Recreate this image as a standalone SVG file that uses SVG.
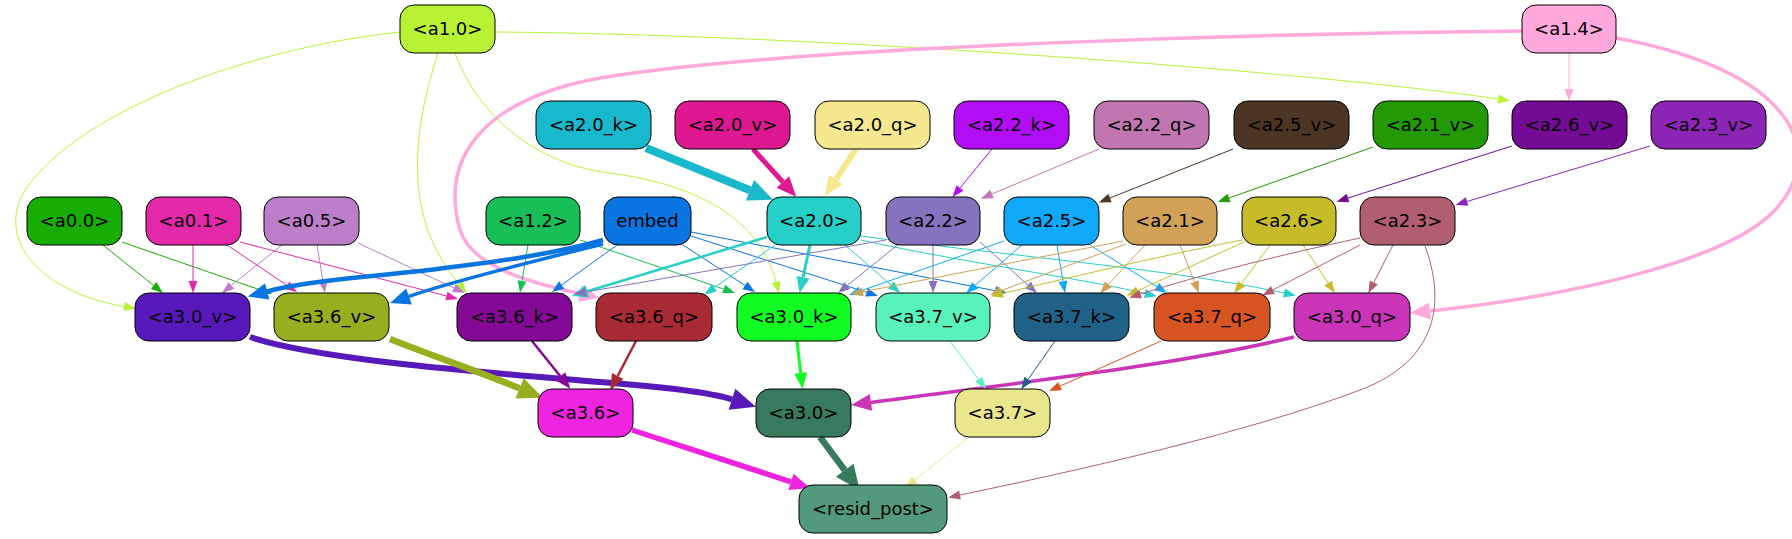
<svg xmlns="http://www.w3.org/2000/svg" width="1792" height="539" viewBox="0 0 1792 539">
<style>
.n rect{stroke:#000;stroke-width:1}
.n text{font-family:"DejaVu Sans","Liberation Sans",sans-serif;font-size:18px;text-anchor:middle;fill:#000}
.e path{fill:none}
marker{overflow:visible}
</style>
<defs>
<marker id="s-b10ef6" markerUnits="userSpaceOnUse" markerWidth="12" markerHeight="9" refX="0" refY="4.5" orient="auto"><path d="M0,0L12,4.5L0,9z" fill="#b10ef6"/></marker>
<marker id="s-c276b1" markerUnits="userSpaceOnUse" markerWidth="12" markerHeight="9" refX="0" refY="4.5" orient="auto"><path d="M0,0L12,4.5L0,9z" fill="#c276b1"/></marker>
<marker id="s-4b3523" markerUnits="userSpaceOnUse" markerWidth="12" markerHeight="9" refX="0" refY="4.5" orient="auto"><path d="M0,0L12,4.5L0,9z" fill="#4b3523"/></marker>
<marker id="s-239a05" markerUnits="userSpaceOnUse" markerWidth="12" markerHeight="9" refX="0" refY="4.5" orient="auto"><path d="M0,0L12,4.5L0,9z" fill="#239a05"/></marker>
<marker id="s-740b95" markerUnits="userSpaceOnUse" markerWidth="12" markerHeight="9" refX="0" refY="4.5" orient="auto"><path d="M0,0L12,4.5L0,9z" fill="#740b95"/></marker>
<marker id="s-8c24b5" markerUnits="userSpaceOnUse" markerWidth="12" markerHeight="9" refX="0" refY="4.5" orient="auto"><path d="M0,0L12,4.5L0,9z" fill="#8c24b5"/></marker>
<marker id="s-fea8db" markerUnits="userSpaceOnUse" markerWidth="12" markerHeight="9" refX="0" refY="4.5" orient="auto"><path d="M0,0L12,4.5L0,9z" fill="#fea8db"/></marker>
<marker id="s-b9f235" markerUnits="userSpaceOnUse" markerWidth="12" markerHeight="9" refX="0" refY="4.5" orient="auto"><path d="M0,0L12,4.5L0,9z" fill="#b9f235"/></marker>
<marker id="s-18ad05" markerUnits="userSpaceOnUse" markerWidth="12" markerHeight="9" refX="0" refY="4.5" orient="auto"><path d="M0,0L12,4.5L0,9z" fill="#18ad05"/></marker>
<marker id="s-e329a9" markerUnits="userSpaceOnUse" markerWidth="12" markerHeight="9" refX="0" refY="4.5" orient="auto"><path d="M0,0L12,4.5L0,9z" fill="#e329a9"/></marker>
<marker id="s-bc7ec9" markerUnits="userSpaceOnUse" markerWidth="12" markerHeight="9" refX="0" refY="4.5" orient="auto"><path d="M0,0L12,4.5L0,9z" fill="#bc7ec9"/></marker>
<marker id="s-18bf57" markerUnits="userSpaceOnUse" markerWidth="12" markerHeight="9" refX="0" refY="4.5" orient="auto"><path d="M0,0L12,4.5L0,9z" fill="#18bf57"/></marker>
<marker id="s-0875e1" markerUnits="userSpaceOnUse" markerWidth="12" markerHeight="9" refX="0" refY="4.5" orient="auto"><path d="M0,0L12,4.5L0,9z" fill="#0875e1"/></marker>
<marker id="s-26cfc7" markerUnits="userSpaceOnUse" markerWidth="12" markerHeight="9" refX="0" refY="4.5" orient="auto"><path d="M0,0L12,4.5L0,9z" fill="#26cfc7"/></marker>
<marker id="s-8574bd" markerUnits="userSpaceOnUse" markerWidth="12" markerHeight="9" refX="0" refY="4.5" orient="auto"><path d="M0,0L12,4.5L0,9z" fill="#8574bd"/></marker>
<marker id="s-10a8f8" markerUnits="userSpaceOnUse" markerWidth="12" markerHeight="9" refX="0" refY="4.5" orient="auto"><path d="M0,0L12,4.5L0,9z" fill="#10a8f8"/></marker>
<marker id="s-d1a156" markerUnits="userSpaceOnUse" markerWidth="12" markerHeight="9" refX="0" refY="4.5" orient="auto"><path d="M0,0L12,4.5L0,9z" fill="#d1a156"/></marker>
<marker id="s-c6bc29" markerUnits="userSpaceOnUse" markerWidth="12" markerHeight="9" refX="0" refY="4.5" orient="auto"><path d="M0,0L12,4.5L0,9z" fill="#c6bc29"/></marker>
<marker id="s-b15f70" markerUnits="userSpaceOnUse" markerWidth="12" markerHeight="9" refX="0" refY="4.5" orient="auto"><path d="M0,0L12,4.5L0,9z" fill="#b15f70"/></marker>
<marker id="s-58f3ba" markerUnits="userSpaceOnUse" markerWidth="12" markerHeight="9" refX="0" refY="4.5" orient="auto"><path d="M0,0L12,4.5L0,9z" fill="#58f3ba"/></marker>
<marker id="s-1f6187" markerUnits="userSpaceOnUse" markerWidth="12" markerHeight="9" refX="0" refY="4.5" orient="auto"><path d="M0,0L12,4.5L0,9z" fill="#1f6187"/></marker>
<marker id="s-d65523" markerUnits="userSpaceOnUse" markerWidth="12" markerHeight="9" refX="0" refY="4.5" orient="auto"><path d="M0,0L12,4.5L0,9z" fill="#d65523"/></marker>
<marker id="s-e9e68c" markerUnits="userSpaceOnUse" markerWidth="12" markerHeight="9" refX="0" refY="4.5" orient="auto"><path d="M0,0L12,4.5L0,9z" fill="#e9e68c"/></marker>
<marker id="m-26cfc7" markerUnits="userSpaceOnUse" markerWidth="16" markerHeight="13" refX="0" refY="6.5" orient="auto"><path d="M0,0L16,6.5L0,13z" fill="#26cfc7"/></marker>
<marker id="m-840996" markerUnits="userSpaceOnUse" markerWidth="16" markerHeight="13" refX="0" refY="6.5" orient="auto"><path d="M0,0L16,6.5L0,13z" fill="#840996"/></marker>
<marker id="m-a82a35" markerUnits="userSpaceOnUse" markerWidth="16" markerHeight="13" refX="0" refY="6.5" orient="auto"><path d="M0,0L16,6.5L0,13z" fill="#a82a35"/></marker>
<marker id="m-10fc22" markerUnits="userSpaceOnUse" markerWidth="16" markerHeight="13" refX="0" refY="6.5" orient="auto"><path d="M0,0L16,6.5L0,13z" fill="#10fc22"/></marker>
<marker id="l-dd1891" markerUnits="userSpaceOnUse" markerWidth="20" markerHeight="17" refX="0" refY="8.5" orient="auto"><path d="M0,0L20,8.5L0,17z" fill="#dd1891"/></marker>
<marker id="l-f6e88f" markerUnits="userSpaceOnUse" markerWidth="20" markerHeight="17" refX="0" refY="8.5" orient="auto"><path d="M0,0L20,8.5L0,17z" fill="#f6e88f"/></marker>
<marker id="l-fea8db" markerUnits="userSpaceOnUse" markerWidth="20" markerHeight="17" refX="0" refY="8.5" orient="auto"><path d="M0,0L20,8.5L0,17z" fill="#fea8db"/></marker>
<marker id="l-0875e1" markerUnits="userSpaceOnUse" markerWidth="20" markerHeight="17" refX="0" refY="8.5" orient="auto"><path d="M0,0L20,8.5L0,17z" fill="#0875e1"/></marker>
<marker id="l-ca34b9" markerUnits="userSpaceOnUse" markerWidth="20" markerHeight="17" refX="0" refY="8.5" orient="auto"><path d="M0,0L20,8.5L0,17z" fill="#ca34b9"/></marker>
<marker id="l-ef24e1" markerUnits="userSpaceOnUse" markerWidth="20" markerHeight="17" refX="0" refY="8.5" orient="auto"><path d="M0,0L20,8.5L0,17z" fill="#ef24e1"/></marker>
<marker id="x-18b9cd" markerUnits="userSpaceOnUse" markerWidth="25" markerHeight="22" refX="0" refY="11" orient="auto"><path d="M0,0L25,11L0,22z" fill="#18b9cd"/></marker>
<marker id="x-5819bb" markerUnits="userSpaceOnUse" markerWidth="25" markerHeight="22" refX="0" refY="11" orient="auto"><path d="M0,0L25,11L0,22z" fill="#5819bb"/></marker>
<marker id="x-97ae1f" markerUnits="userSpaceOnUse" markerWidth="25" markerHeight="22" refX="0" refY="11" orient="auto"><path d="M0,0L25,11L0,22z" fill="#97ae1f"/></marker>
<marker id="x-377a5e" markerUnits="userSpaceOnUse" markerWidth="25" markerHeight="22" refX="0" refY="11" orient="auto"><path d="M0,0L25,11L0,22z" fill="#377a5e"/></marker>
</defs>
<rect width="1792" height="539" fill="#fff"/>
<g id="connectors" class="e">
<path d="M646,148 L750,190.3" stroke="#18b9cd" stroke-width="8" marker-end="url(#x-18b9cd)"/>
<path d="M753,149 L782.8,182" stroke="#dd1891" stroke-width="5" marker-end="url(#l-dd1891)"/>
<path d="M856,149 L835.8,179.6" stroke="#f6e88f" stroke-width="6" marker-end="url(#l-f6e88f)"/>
<path d="M992,149 L960,188" stroke="#b10ef6" marker-end="url(#s-b10ef6)"/>
<path d="M1099,149 L992,194" stroke="#c276b1" marker-end="url(#s-c276b1)"/>
<path d="M1233,149 L1110,198" stroke="#4b3523" marker-end="url(#s-4b3523)"/>
<path d="M1373,147 L1229,198" stroke="#239a05" marker-end="url(#s-239a05)"/>
<path d="M1512,146 L1348,198" stroke="#740b95" marker-end="url(#s-740b95)"/>
<path d="M1650,146 L1467,201.5" stroke="#8c24b5" marker-end="url(#s-8c24b5)"/>
<path d="M1569,53 L1569,89" stroke="#fea8db" marker-end="url(#s-fea8db)"/>
<path d="M495,32 C800,34 1300,70 1498,99" stroke="#b9f235" marker-end="url(#s-b9f235)"/>
<path d="M1616,38 C1790,70 1830,150 1775,210 C1730,259 1580,295 1430,311" stroke="#fea8db" stroke-width="3.5" marker-end="url(#l-fea8db)"/>
<path d="M1522,31 C1300,33 800,45 600,78 C480,100 440,160 460,230 C472,268 535,284 580,293.5" stroke="#fea8db" stroke-width="3.5" marker-end="url(#l-fea8db)"/>
<path d="M400,32 C250,48 80,110 25,190 C-5,240 40,292 124,306.5" stroke="#b9f235" marker-end="url(#s-b9f235)"/>
<path d="M438,53 C410,140 405,220 459,284" stroke="#b9f235" marker-end="url(#s-b9f235)"/>
<path d="M455,53 C480,120 540,165 610,173 C700,185 760,220 776,282" stroke="#b9f235" marker-end="url(#s-b9f235)"/>
<path d="M103,245 L153.6,285.5" stroke="#18ad05" marker-end="url(#s-18ad05)"/>
<path d="M122,242 L260.7,290.1" stroke="#18ad05" marker-end="url(#s-18ad05)"/>
<path d="M193,245 L193,281" stroke="#e329a9" marker-end="url(#s-e329a9)"/>
<path d="M227,245 L287,285.3" stroke="#e329a9" marker-end="url(#s-e329a9)"/>
<path d="M240,242 L446.4,296" stroke="#e329a9" marker-end="url(#s-e329a9)"/>
<path d="M282,245 L231.4,285.5" stroke="#bc7ec9" marker-end="url(#s-bc7ec9)"/>
<path d="M317,245 L323,281" stroke="#bc7ec9" marker-end="url(#s-bc7ec9)"/>
<path d="M358,243 L454,288" stroke="#bc7ec9" marker-end="url(#s-bc7ec9)"/>
<path d="M528,245 L522,281" stroke="#18bf57" marker-end="url(#s-18bf57)"/>
<path d="M580,240 L723.7,289.1" stroke="#18bf57" marker-end="url(#s-18bf57)"/>
<path d="M603,240 C540,258 460,266 420,271 C330,280 295,284 267.2,291.4" stroke="#0875e1" stroke-width="4.5" marker-end="url(#l-0875e1)"/>
<path d="M603,244 C530,262 450,282 409,296.4" stroke="#0875e1" stroke-width="3.5" marker-end="url(#l-0875e1)"/>
<path d="M617,245 L561.7,285" stroke="#0875e1" marker-end="url(#s-0875e1)"/>
<path d="M683,245 L745,285.4" stroke="#0875e1" marker-end="url(#s-0875e1)"/>
<path d="M691,232 L995.2,290.7" stroke="#0875e1" marker-end="url(#s-0875e1)"/>
<path d="M691,236 L866.6,292.3" stroke="#0875e1" marker-end="url(#s-0875e1)"/>
<path d="M767,237 L587.3,291.3" stroke="#26cfc7" stroke-width="2.5" marker-end="url(#m-26cfc7)"/>
<path d="M775,245 L714.3,287.8" stroke="#26cfc7" marker-end="url(#s-26cfc7)"/>
<path d="M810,245 L803,277.3" stroke="#26cfc7" stroke-width="3" marker-end="url(#m-26cfc7)"/>
<path d="M845,245 L891,285" stroke="#26cfc7" marker-end="url(#s-26cfc7)"/>
<path d="M861,240 C960,262 1080,278 1145,293.5" stroke="#26cfc7" marker-end="url(#s-26cfc7)"/>
<path d="M861,236 C1000,255 1180,270 1284,293" stroke="#26cfc7" marker-end="url(#s-26cfc7)"/>
<path d="M886,240 L585.8,292" stroke="#8574bd" marker-end="url(#s-8574bd)"/>
<path d="M900,243 L847.3,285.5" stroke="#8574bd" marker-end="url(#s-8574bd)"/>
<path d="M933,245 L933,281" stroke="#8574bd" marker-end="url(#s-8574bd)"/>
<path d="M980,242 L1028,285" stroke="#8574bd" marker-end="url(#s-8574bd)"/>
<path d="M1004,241 L860.3,291" stroke="#10a8f8" marker-end="url(#s-10a8f8)"/>
<path d="M1022,245 L975.2,285.3" stroke="#10a8f8" marker-end="url(#s-10a8f8)"/>
<path d="M1057,245 L1063,281.2" stroke="#10a8f8" marker-end="url(#s-10a8f8)"/>
<path d="M1090,245 L1156.8,286.6" stroke="#10a8f8" marker-end="url(#s-10a8f8)"/>
<path d="M1123,241 L862.8,291.8" stroke="#d1a156" marker-end="url(#s-d1a156)"/>
<path d="M1126,244 L1001.2,290.6" stroke="#d1a156" marker-end="url(#s-d1a156)"/>
<path d="M1145,245 L1108.4,284.4" stroke="#d1a156" marker-end="url(#s-d1a156)"/>
<path d="M1180,245 L1194.5,281.9" stroke="#d1a156" marker-end="url(#s-d1a156)"/>
<path d="M1242,240 C1150,258 1060,280 1002.7,293.4" stroke="#c6bc29" marker-end="url(#s-c6bc29)"/>
<path d="M1244,242 L1137.8,290.7" stroke="#c6bc29" marker-end="url(#s-c6bc29)"/>
<path d="M1270,245 L1241.4,283.6" stroke="#c6bc29" marker-end="url(#s-c6bc29)"/>
<path d="M1303,245 L1328.2,283.1" stroke="#c6bc29" marker-end="url(#s-c6bc29)"/>
<path d="M1360,245 L1272.9,290" stroke="#b15f70" marker-end="url(#s-b15f70)"/>
<path d="M1393,245 L1373.8,282.5" stroke="#b15f70" marker-end="url(#s-b15f70)"/>
<path d="M1360,238 C1280,255 1200,275 1140.6,294" stroke="#b15f70" marker-end="url(#s-b15f70)"/>
<path d="M1425,246 C1445,300 1440,360 1360,390 C1250,432 1080,470 960,495" stroke="#b15f70" marker-end="url(#s-b15f70)"/>
<path d="M250,337 C320,360 480,372 600,382 C680,388 715,394 732,399.3" stroke="#5819bb" stroke-width="6" marker-end="url(#x-5819bb)"/>
<path d="M390,339 C430,355 480,372 519.6,388.3" stroke="#97ae1f" stroke-width="6.5" marker-end="url(#x-97ae1f)"/>
<path d="M532,341 L560.3,376.3" stroke="#840996" stroke-width="2.5" marker-end="url(#m-840996)"/>
<path d="M636,341 L617.7,376" stroke="#a82a35" stroke-width="2.5" marker-end="url(#m-a82a35)"/>
<path d="M797,341 L800.7,373" stroke="#10fc22" stroke-width="3" marker-end="url(#m-10fc22)"/>
<path d="M1294,337 C1180,365 1000,385 871,402.4" stroke="#ca34b9" stroke-width="3.5" marker-end="url(#l-ca34b9)"/>
<path d="M950,341 L978.7,379.4" stroke="#58f3ba" marker-end="url(#s-58f3ba)"/>
<path d="M1055,341 L1028.1,379.4" stroke="#1f6187" marker-end="url(#s-1f6187)"/>
<path d="M1161,341 L1060,386.2" stroke="#d65523" marker-end="url(#s-d65523)"/>
<path d="M632,430 L791,481.8" stroke="#ef24e1" stroke-width="5.5" marker-end="url(#l-ef24e1)"/>
<path d="M820,437 L844.75,470.25" stroke="#377a5e" stroke-width="6.5" marker-end="url(#x-377a5e)"/>
<path d="M969,437 L914.7,480" stroke="#e9e68c" marker-end="url(#s-e9e68c)"/>
</g>
<g id="a1_0" class="n"><rect x="400" y="5" width="95" height="48" rx="14" fill="#b9f235"/><text x="447.5" y="34.5">&lt;a1.0&gt;</text></g>
<g id="a1_4" class="n"><rect x="1522" y="5" width="94" height="48" rx="14" fill="#fea8db"/><text x="1569" y="34.5">&lt;a1.4&gt;</text></g>
<g id="a2_0_k" class="n"><rect x="536" y="101" width="115" height="48" rx="14" fill="#18b9cd"/><text x="593.5" y="130.5">&lt;a2.0_k&gt;</text></g>
<g id="a2_0_v" class="n"><rect x="675" y="101" width="115" height="48" rx="14" fill="#dd1891"/><text x="732.5" y="130.5">&lt;a2.0_v&gt;</text></g>
<g id="a2_0_q" class="n"><rect x="815" y="101" width="115" height="48" rx="14" fill="#f6e88f"/><text x="872.5" y="130.5">&lt;a2.0_q&gt;</text></g>
<g id="a2_2_k" class="n"><rect x="954" y="101" width="115" height="48" rx="14" fill="#b10ef6"/><text x="1011.5" y="130.5">&lt;a2.2_k&gt;</text></g>
<g id="a2_2_q" class="n"><rect x="1094" y="101" width="115" height="48" rx="14" fill="#c276b1"/><text x="1151.5" y="130.5">&lt;a2.2_q&gt;</text></g>
<g id="a2_5_v" class="n"><rect x="1234" y="101" width="115" height="48" rx="14" fill="#4b3523"/><text x="1291.5" y="130.5">&lt;a2.5_v&gt;</text></g>
<g id="a2_1_v" class="n"><rect x="1373" y="101" width="115" height="48" rx="14" fill="#239a05"/><text x="1430.5" y="130.5">&lt;a2.1_v&gt;</text></g>
<g id="a2_6_v" class="n"><rect x="1512" y="101" width="115" height="48" rx="14" fill="#740b95"/><text x="1569.5" y="130.5">&lt;a2.6_v&gt;</text></g>
<g id="a2_3_v" class="n"><rect x="1651" y="101" width="115" height="48" rx="14" fill="#8c24b5"/><text x="1708.5" y="130.5">&lt;a2.3_v&gt;</text></g>
<g id="a0_0" class="n"><rect x="27" y="197" width="95" height="48" rx="14" fill="#18ad05"/><text x="74.5" y="226.5">&lt;a0.0&gt;</text></g>
<g id="a0_1" class="n"><rect x="146" y="197" width="95" height="48" rx="14" fill="#e329a9"/><text x="193.5" y="226.5">&lt;a0.1&gt;</text></g>
<g id="a0_5" class="n"><rect x="264" y="197" width="95" height="48" rx="14" fill="#bc7ec9"/><text x="311.5" y="226.5">&lt;a0.5&gt;</text></g>
<g id="a1_2" class="n"><rect x="486" y="197" width="94" height="48" rx="14" fill="#18bf57"/><text x="533" y="226.5">&lt;a1.2&gt;</text></g>
<g id="embed" class="n"><rect x="604" y="197" width="87" height="48" rx="14" fill="#0875e1"/><text x="647.5" y="226.5">embed</text></g>
<g id="a2_0" class="n"><rect x="767" y="197" width="94" height="48" rx="14" fill="#26cfc7"/><text x="814" y="226.5">&lt;a2.0&gt;</text></g>
<g id="a2_2" class="n"><rect x="886" y="197" width="94" height="48" rx="14" fill="#8574bd"/><text x="933" y="226.5">&lt;a2.2&gt;</text></g>
<g id="a2_5" class="n"><rect x="1004" y="197" width="95" height="48" rx="14" fill="#10a8f8"/><text x="1051.5" y="226.5">&lt;a2.5&gt;</text></g>
<g id="a2_1" class="n"><rect x="1123" y="197" width="94" height="48" rx="14" fill="#d1a156"/><text x="1170" y="226.5">&lt;a2.1&gt;</text></g>
<g id="a2_6" class="n"><rect x="1242" y="197" width="94" height="48" rx="14" fill="#c6bc29"/><text x="1289" y="226.5">&lt;a2.6&gt;</text></g>
<g id="a2_3" class="n"><rect x="1360" y="197" width="95" height="48" rx="14" fill="#b15f70"/><text x="1407.5" y="226.5">&lt;a2.3&gt;</text></g>
<g id="a3_0_v" class="n"><rect x="135" y="293" width="115" height="48" rx="14" fill="#5819bb"/><text x="192.5" y="322.5">&lt;a3.0_v&gt;</text></g>
<g id="a3_6_v" class="n"><rect x="274" y="293" width="115" height="48" rx="14" fill="#97ae1f"/><text x="331.5" y="322.5">&lt;a3.6_v&gt;</text></g>
<g id="a3_6_k" class="n"><rect x="457" y="293" width="115" height="48" rx="14" fill="#840996"/><text x="514.5" y="322.5">&lt;a3.6_k&gt;</text></g>
<g id="a3_6_q" class="n"><rect x="596" y="293" width="116" height="48" rx="14" fill="#a82a35"/><text x="654" y="322.5">&lt;a3.6_q&gt;</text></g>
<g id="a3_0_k" class="n"><rect x="737" y="293" width="114" height="48" rx="14" fill="#10fc22"/><text x="794" y="322.5">&lt;a3.0_k&gt;</text></g>
<g id="a3_7_v" class="n"><rect x="876" y="293" width="114" height="48" rx="14" fill="#58f3ba"/><text x="933" y="322.5">&lt;a3.7_v&gt;</text></g>
<g id="a3_7_k" class="n"><rect x="1014" y="293" width="115" height="48" rx="14" fill="#1f6187"/><text x="1071.5" y="322.5">&lt;a3.7_k&gt;</text></g>
<g id="a3_7_q" class="n"><rect x="1154" y="293" width="116" height="48" rx="14" fill="#d65523"/><text x="1212" y="322.5">&lt;a3.7_q&gt;</text></g>
<g id="a3_0_q" class="n"><rect x="1294" y="293" width="116" height="48" rx="14" fill="#ca34b9"/><text x="1352" y="322.5">&lt;a3.0_q&gt;</text></g>
<g id="a3_6" class="n"><rect x="538" y="389" width="95" height="48" rx="14" fill="#ef24e1"/><text x="585.5" y="418.5">&lt;a3.6&gt;</text></g>
<g id="a3_0" class="n"><rect x="756" y="389" width="95" height="48" rx="14" fill="#377a5e"/><text x="803.5" y="418.5">&lt;a3.0&gt;</text></g>
<g id="a3_7" class="n"><rect x="955" y="389" width="95" height="48" rx="14" fill="#e9e68c"/><text x="1002.5" y="418.5">&lt;a3.7&gt;</text></g>
<g id="resid_post" class="n"><rect x="799" y="485" width="148" height="48" rx="14" fill="#53997b"/><text x="873" y="514.5">&lt;resid_post&gt;</text></g>
</svg>
